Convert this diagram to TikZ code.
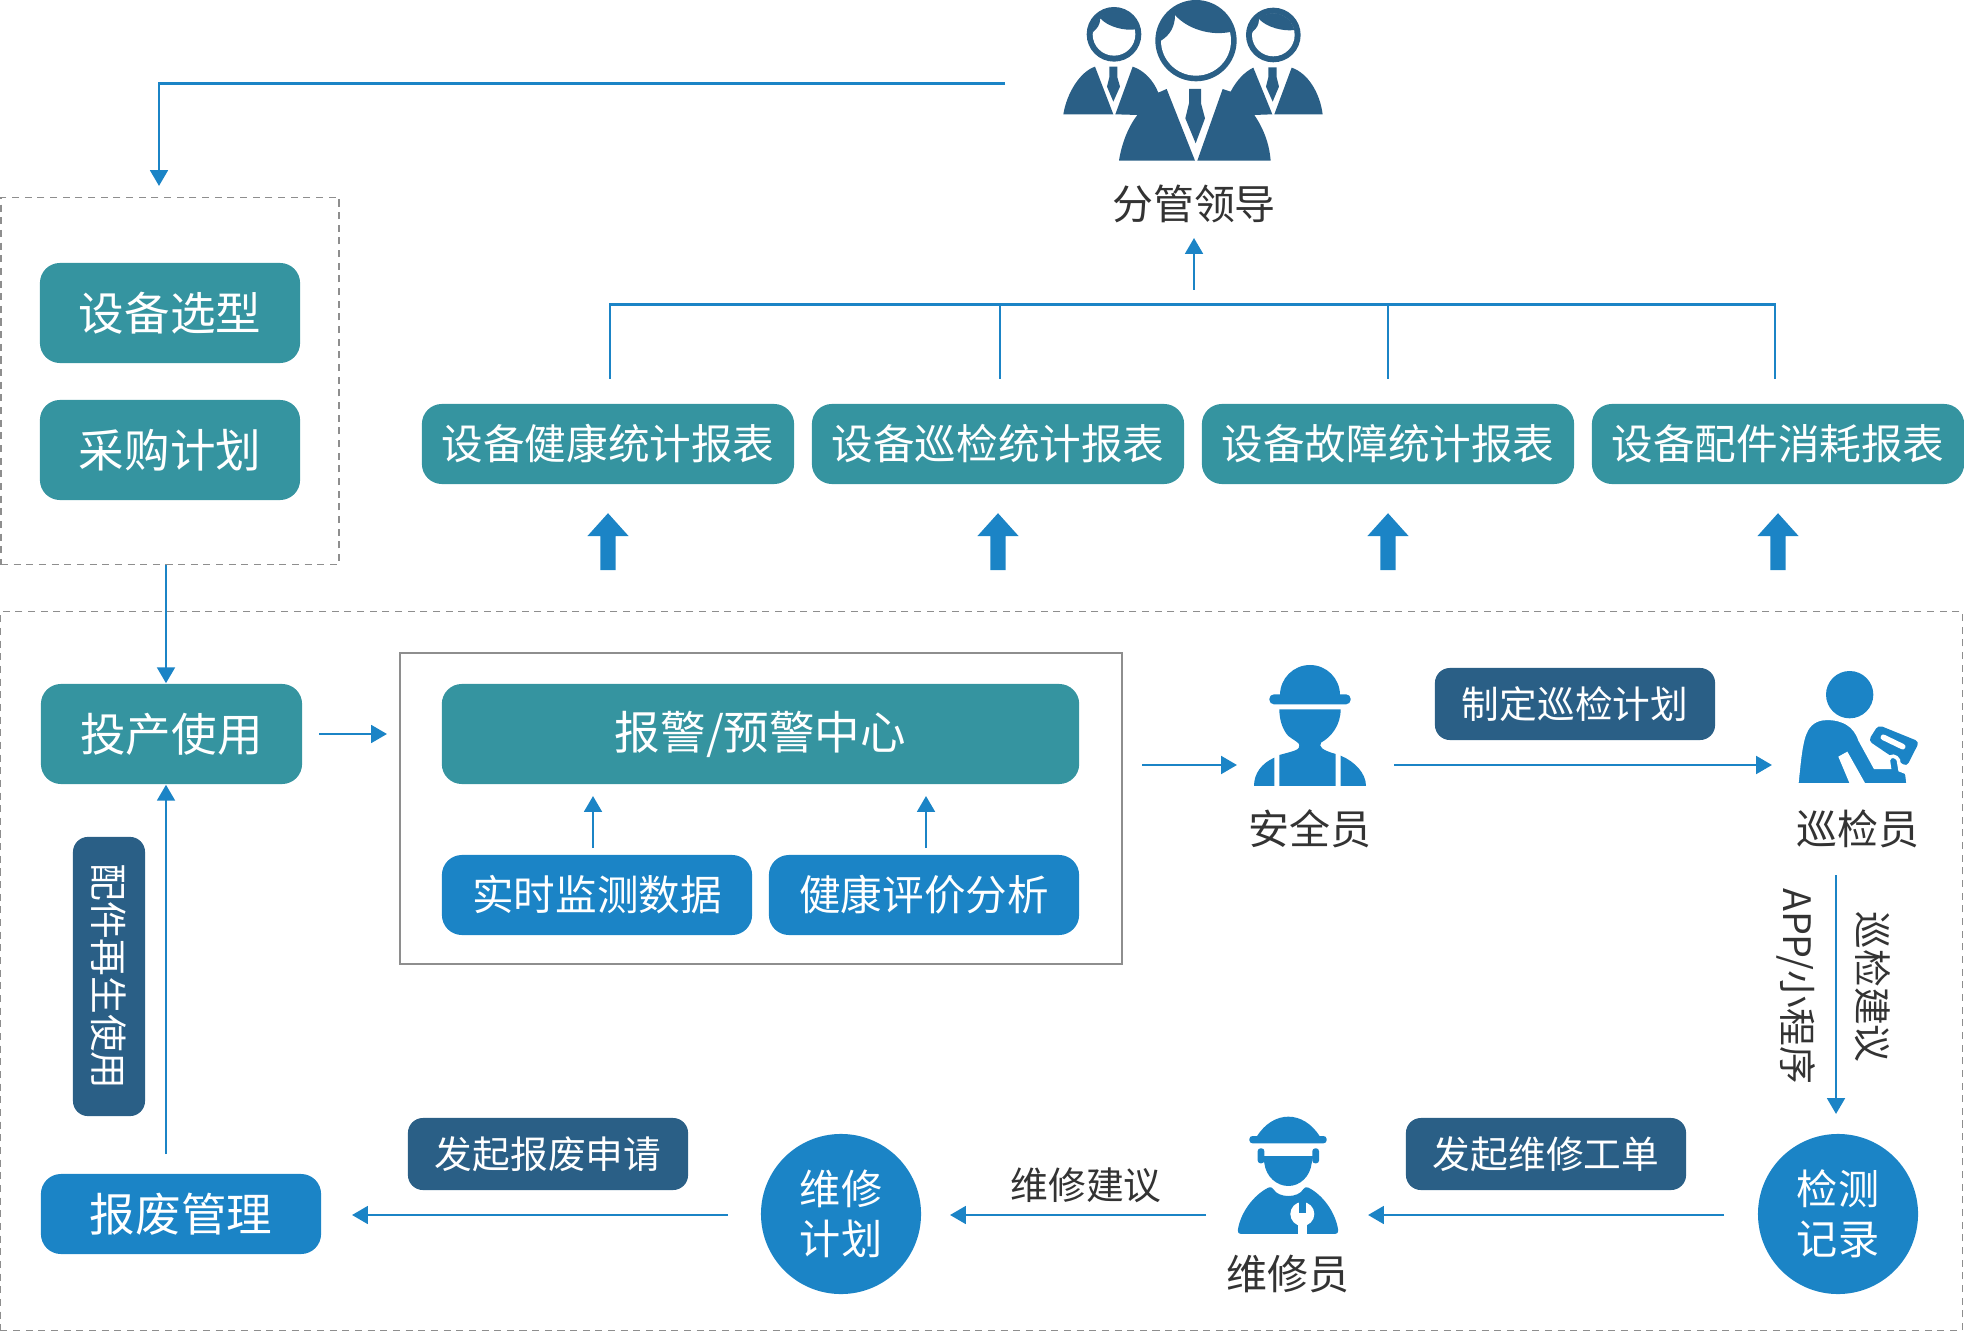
\documentclass[tikz,border=0pt]{standalone}
\usepackage{fontspec}
\setmainfont{Noto Sans CJK SC}
\usetikzlibrary{arrows.meta,shapes.arrows}
\definecolor{eqteal}{HTML}{3594A0}
\definecolor{eqblue}{HTML}{1B84C6}
\definecolor{eqdark}{HTML}{2A5F86}
\definecolor{eqtext}{HTML}{333333}
\definecolor{eqgrey}{HTML}{8E8E8E}
\tikzset{
  eqbox/.style={fill=eqteal, text=white, rounded corners=0.2cm, align=center, inner sep=0pt,
                font=\fontsize{12.95pt}{15pt}\selectfont},
  eqstat/.style={eqbox, minimum width=3.72cm, minimum height=0.8cm, font=\fontsize{11.83pt}{14pt}\selectfont},
  eqdata/.style={eqbox, fill=eqblue, minimum height=0.8cm, font=\fontsize{11.83pt}{14pt}\selectfont},
  eqtag/.style={eqbox, fill=eqdark, minimum width=2.8cm, minimum height=0.72cm, rounded corners=0.15cm,
                font=\fontsize{10.72pt}{13pt}\selectfont},
  eqcircle/.style={circle, fill=eqblue, text=white, align=center, inner sep=0pt, minimum size=1.6cm,
                font=\fontsize{11.7pt}{14.2pt}\selectfont},
  eqlabel/.style={text=eqtext, inner sep=0pt, font=\fontsize{11.65pt}{14pt}\selectfont},
  eqnote/.style={text=eqtext, inner sep=0pt, font=\fontsize{10.75pt}{13pt}\selectfont},
  eqflow/.style={-{Triangle[length=4.5pt,width=5pt]}, line width=0.8pt, draw=eqblue},
  eqbar/.style={line width=0.8pt, draw=eqblue},
  eqdash/.style={draw=eqgrey, line width=0.4pt, dash pattern=on 2pt off 1.6pt},
  equp/.style={single arrow, fill=eqblue, shape border rotate=90, inner sep=0.07cm, minimum height=0.57cm,
                minimum width=0.4cm, single arrow head extend=0.13cm, single arrow tip angle=84,
                single arrow head indent=0pt},
}
\begin{document}
\begin{tikzpicture}[x=0.01cm,y=-0.01cm]
    \useasboundingbox (0,0) rectangle (1964,1331);
    % frames
    \node[eqdash, minimum width=3.38cm, minimum height=3.67cm, inner sep=0pt] (plan) at (170,381) {};
    \node[eqdash, minimum width=19.61cm, minimum height=7.18cm, inner sep=0pt] (site) at (981.5,971) {};
    \node[draw=eqgrey, line width=0.5pt, minimum width=7.22cm, minimum height=3.11cm, inner sep=0pt] (center) at (761,808.5) {};
    % selection
    \node[eqbox, minimum width=2.6cm, minimum height=1cm] (select) at (170,313) {设备选型};
    \node[eqbox, minimum width=2.6cm, minimum height=1cm] (purchase) at (170,450) {采购计划};
    % reports
    \node[eqstat] (health) at (608,444) {设备健康统计报表};
    \node[eqstat] (inspect) at (998,444) {设备巡检统计报表};
    \node[eqstat] (fault) at (1388,444) {设备故障统计报表};
    \node[eqstat] (parts) at (1778,444) {设备配件消耗报表};
    \node[equp] (up1) at (608,546) {};
    \node[equp] (up2) at (998,546) {};
    \node[equp] (up3) at (1388,546) {};
    \node[equp] (up4) at (1778,546) {};
    % leaders
    \node[eqlabel] (leader) at (1194,204) {分管领导};
    \begin{scope}[shift={(1040,0)},scale=0.3333,eqdark]
        \fill (222,103) circle[radius=82];
        \fill[white] (222,103) circle[radius=64];
        \fill (287,88) arc[start angle=-13,end angle=-180,radius=66] -- (160,95) .. controls (172,85) and (180,75) .. (181,55) .. controls (205,82) and (255,93) .. (287,88);
        \fill (700,105) circle[radius=82];
        \fill[white] (700,105) circle[radius=64];
        \fill (763,90) arc[start angle=-13,end angle=-180,radius=65] -- (638,95) .. controls (650,85) and (657,75) .. (657,57) .. controls (680,82) and (730,95) .. (763,90);
        \fill (468,122) circle[radius=122];
        \fill[white] (468,122) circle[radius=105];
        \fill (575,95) arc[start angle=-14,end angle=-180,radius=110] -- (363,122) .. controls (390,105) and (405,80) .. (405,45) .. controls (440,85) and (510,110) .. (575,95);
        \fill (70,343) .. controls (80,280) and (120,215) .. (165,200) -- (220,343) -- cycle;
        \fill (226,343) -- (278,200) .. controls (310,210) and (340,240) .. (355,278) -- (380,267) -- (465,482) -- (237,482) .. controls (245,430) and (265,380) .. (292,345) -- cycle;
        \fill (472,482) -- (548,267) -- (572,275) .. controls (590,240) and (615,215) .. (640,203) -- (697,343) -- (643,345) .. controls (670,385) and (688,430) .. (692,482) -- cycle;
        \fill (703,343) -- (755,203) .. controls (805,220) and (840,280) .. (848,343) -- cycle;
        \fill (447,267) -- (483,267) -- (483,310) -- (495,355) -- (467,430) -- (436,355) -- (447,310) -- cycle;
        \fill (208,200) -- (232,200) -- (232,232) -- (240,260) -- (220,305) -- (201,260) -- (208,232) -- cycle;
        \fill (685,202) -- (710,202) -- (710,232) -- (717,260) -- (698,305) -- (678,260) -- (685,232) -- cycle;
    \end{scope}
    % monitoring
    \node[eqbox, minimum width=2.61cm, minimum height=1cm] (use) at (171.5,734) {投产使用};
    \node[eqbox, minimum width=6.37cm, minimum height=1cm] (alarm) at (760.5,734) {报警/预警中心};
    \node[eqdata, minimum width=3.1cm] (realtime) at (597,895) {实时监测数据};
    \node[eqdata, minimum width=3.1cm] (assess) at (924,895) {健康评价分析};
    % people
    \node[eqlabel] (safety) at (1310,829) {安全员};
    \begin{scope}[shift={(1220,650)},scale=0.3333,eqblue]
        \fill (180,135) arc[start angle=180,end angle=360,radius=90] -- cycle;
        \fill[rounded corners=1.3pt] (148,133) rectangle (392,163);
        \fill (178,178) -- (362,178) .. controls (362,225) and (335,260) .. (303,278) .. controls (296,290) and (305,300) .. (347,312) -- (347,408) -- (178,408) -- (178,315) .. controls (225,302) and (240,300) .. (238,285) .. controls (238,278) and (220,270) .. (205,258) .. controls (188,240) and (178,210) .. (178,178) -- cycle;
        \fill (163,323) .. controls (125,340) and (102,370) .. (102,408) -- (163,408) -- cycle;
        \fill (362,317) .. controls (405,335) and (438,370) .. (438,408) -- (362,408) -- cycle;
    \end{scope}
    \node[eqlabel] (patrol) at (1858,829) {巡检员};
    \begin{scope}[shift={(1760,650)},scale=0.3333,eqblue]
        \fill (269,134) circle[radius=71];
        \fill[rounded corners=1.2pt] (355,225) -- (478,275) -- (440,350) -- (325,272) -- cycle;
        \draw[white, line width=1.6pt, line cap=round] (370,262) -- (428,290);
        \fill[draw=white, line width=1pt] (110,405) .. controls (118,330) and (122,270) .. (140,238) .. controls (155,212) and (180,205) .. (200,205) .. controls (250,205) and (285,225) .. (300,270) -- (345,352) -- (388,352) -- (385,330) .. controls (390,312) and (410,318) .. (415,330) -- (420,360) -- (440,368) -- (445,405) -- cycle;
        \fill[white] (235,320) -- (262,305) -- (320,408) -- (272,408) -- cycle;
    \end{scope}
    \node[eqlabel] (repair) at (1288,1274) {维修员};
    \begin{scope}[shift={(1210,1100)},scale=0.3333,eqblue]
        \fill (140,110) .. controls (165,70) and (200,50) .. (235,50) .. controls (270,50) and (305,70) .. (330,110) -- cycle;
        \fill[rounded corners=0.9pt] (118,108) rectangle (350,130);
        \fill[rounded corners=0.8pt] (143,145) rectangle (163,190);
        \fill[rounded corners=0.8pt] (307,145) rectangle (327,190);
        \fill (160,168) -- (310,168) -- (305,190) .. controls (300,230) and (270,258) .. (235,258) .. controls (200,258) and (168,230) .. (163,190) -- cycle;
        \fill[rounded corners=1pt] (82,402) .. controls (90,340) and (130,285) .. (185,258) .. controls (205,295) and (265,295) .. (285,258) .. controls (340,285) and (378,340) .. (386,402) -- cycle;
        \fill[white] (277,342) circle[radius=36];
        \fill[white] (265,360) rectangle (290,402);
        \fill[eqblue] (266,305) rectangle (289,340);
    \end{scope}
    % repair flow
    \node[eqcircle] (record) at (1838,1214) {检测\\记录};
    \node[eqcircle] (plan2) at (841,1214) {维修\\计划};
    \node[eqbox, fill=eqblue, minimum width=2.8cm, minimum height=0.8cm] (scrap) at (181,1214) {报废管理};
    \node[eqbox, fill=eqdark, rotate=-90, minimum width=2.79cm, minimum height=0.72cm, rounded corners=0.15cm, font=\fontsize{10.72pt}{13pt}\selectfont] (reuse) at (109,976.5) {配件再生使用};
    \node[eqtag] (tagplan) at (1575,704) {制定巡检计划};
    \node[eqtag] (tagorder) at (1546,1154) {发起维修工单};
    \node[eqtag] (tagscrap) at (548,1154) {发起报废申请};
    \node[eqnote] (noterepair) at (1086,1185) {维修建议};
    \node[eqnote, rotate=-90] (noteapp) at (1796,986) {APP/小程序};
    \node[eqnote, rotate=-90] (notepatrol) at (1873,987) {巡检建议};
    % free ends
    \coordinate (topin) at (1005,83.5);
    \coordinate (topout) at (159,186);
    \coordinate (bar) at (1194,304.5);
    \coordinate (barout) at (1194,290);
    \coordinate (barin) at (1194,238);
    \coordinate (r1) at (610,379);
    \coordinate (r2) at (1000,379);
    \coordinate (r3) at (1388,379);
    \coordinate (r4) at (1775,379);
    \coordinate (feed) at (166,0);
    \coordinate (scrapup) at (166,1154);
    \coordinate (useout) at (319,734);
    \coordinate (alarmin) at (387,734);
    \coordinate (centerout) at (1142,765);
    \coordinate (safetyin) at (1237,765);
    \coordinate (safetyout) at (1394,765);
    \coordinate (patrolin) at (1772,765);
    \coordinate (patrolout) at (1836,875);
    \coordinate (recordin) at (1836,1114);
    \coordinate (recordout) at (1724,1215);
    \coordinate (repairin) at (1368,1215);
    \coordinate (repairout) at (1206,1215);
    \coordinate (plan2in) at (950,1215);
    \coordinate (plan2out) at (728,1215);
    \coordinate (scrapin) at (352,1215);
    \coordinate (dataa) at (593,848);
    \coordinate (datab) at (926,848);
    \coordinate (alarma) at (593,796);
    \coordinate (alarmb) at (926,796);
    % connectors
    \draw[eqflow] (topin) -| (topout);
    \draw[eqbar] (r1) |- (bar) -| (r4);
    \draw[eqbar] (r2) -- (r2 |- bar);
    \draw[eqbar] (r3) -- (r3 |- bar);
    \draw[eqflow] (barout) -- (barin);
    \draw[eqflow] (plan.south -| feed) -- (use.north -| feed);
    \draw[eqflow] (scrapup) -- (use.south -| feed);
    \draw[eqflow] (useout) -- (alarmin);
    \draw[eqflow] (dataa) -- (alarma);
    \draw[eqflow] (datab) -- (alarmb);
    \draw[eqflow] (centerout) -- (safetyin);
    \draw[eqflow] (safetyout) -- (patrolin);
    \draw[eqflow] (patrolout) -- (recordin);
    \draw[eqflow] (recordout) -- (repairin);
    \draw[eqflow] (repairout) -- (plan2in);
    \draw[eqflow] (plan2out) -- (scrapin);
\end{tikzpicture}
\end{document}
